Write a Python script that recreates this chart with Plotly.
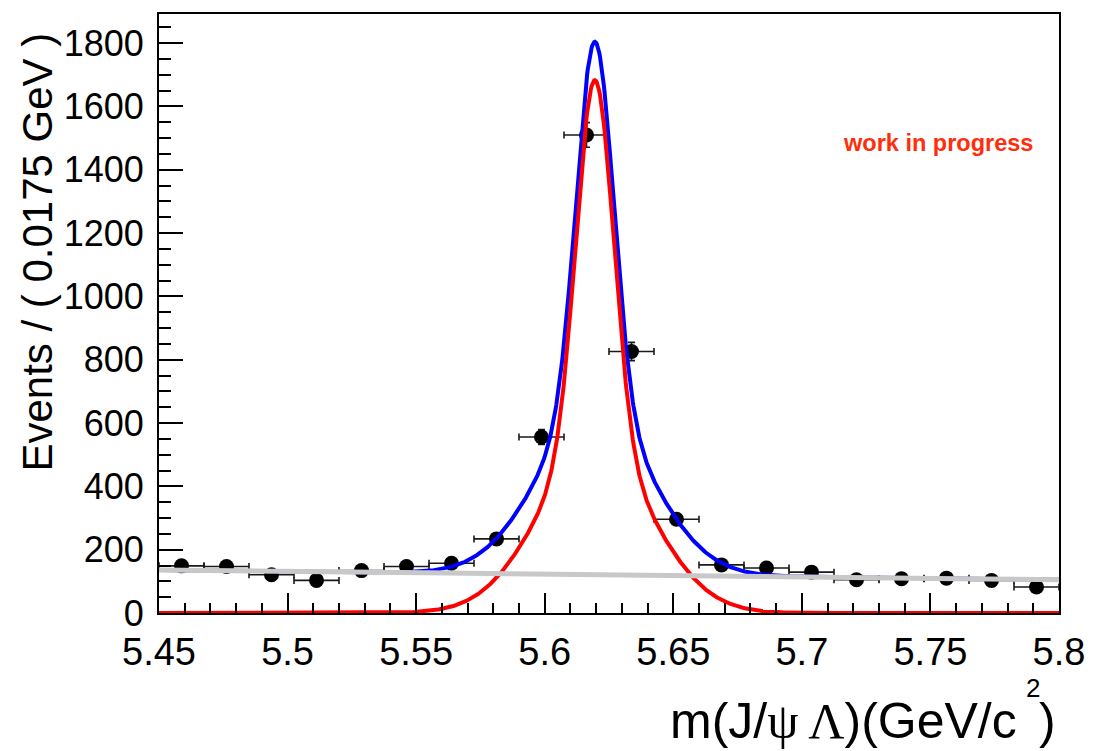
import numpy as np
import plotly.graph_objects as go

# ---- binned data: m(J/psi Lambda), 20 bins of 0.0175 GeV ----
bin_centers = [5.45875, 5.47625, 5.49375, 5.51125, 5.52875, 5.54625, 5.56375,
               5.58125, 5.59875, 5.61625, 5.63375, 5.65125, 5.66875, 5.68625,
               5.70375, 5.72125, 5.73875, 5.75625, 5.77375, 5.79125]
counts = [149, 147, 121, 103, 134, 147, 157, 234, 556, 1510,
          826, 296, 152, 142, 129, 105, 108, 110, 103, 82]
bin_half_width = 0.00875

# ---- fit result: double-Gaussian signal + linear background ----
sig_mean = 5.6195
sig_sigma_core = 0.0072
sig_sigma_wide = 0.022
sig_frac_wide = 0.30
sig_peak = 1683.0
bkg_at_lo = 136.0   # value at m = 5.45
bkg_at_hi = 105.0   # value at m = 5.80

x_lo, x_hi = 5.45, 5.80
y_hi = 1892

x_tick_vals = [5.45, 5.5, 5.55, 5.6, 5.65, 5.7, 5.75, 5.8]
x_tick_text = ["5.45", "5.5", "5.55", "5.6", "5.65", "5.7", "5.75", "5.8"]
y_tick_vals = [0, 200, 400, 600, 800, 1000, 1200, 1400, 1600, 1800]
y_tick_text = [str(v) for v in y_tick_vals]

# ---- evaluate the fitted model on a fine grid ----
m = np.linspace(x_lo, x_hi, 1401)
d = m - sig_mean
signal = sig_peak * ((1 - sig_frac_wide) * np.exp(-0.5 * (d / sig_sigma_core) ** 2)
                     + sig_frac_wide * np.exp(-0.5 * (d / sig_sigma_wide) ** 2))
background = bkg_at_lo + (bkg_at_hi - bkg_at_lo) * (m - x_lo) / (x_hi - x_lo)
total = signal + background

FONT = "Liberation Sans, Arial, Helvetica, sans-serif"

fig = go.Figure()

fig.add_trace(go.Scatter(
    x=bin_centers, y=counts, mode="markers",
    marker=dict(color="black", size=15),
    error_x=dict(type="constant", value=bin_half_width, color="#1a1a1a",
                 thickness=1.6, width=3.5),
    error_y=dict(type="data", array=list(np.sqrt(counts)), color="#1a1a1a",
                 thickness=1.6, width=3.5),
    showlegend=False,
))
fig.add_trace(go.Scatter(x=m, y=total, mode="lines",
                         line=dict(color="#0000ff", width=4), showlegend=False))
fig.add_trace(go.Scatter(x=m, y=signal, mode="lines",
                         line=dict(color="#ff0000", width=4), showlegend=False))
fig.add_trace(go.Scatter(x=m, y=background, mode="lines",
                         line=dict(color="#c8c8c8", width=5), showlegend=False))

fig.update_layout(
    width=1097, height=751,
    margin=dict(l=159, r=33, t=13, b=138),
    paper_bgcolor="white", plot_bgcolor="white",
    font=dict(family=FONT, color="black"),
    showlegend=False,
)

fig.update_xaxes(
    range=[x_lo, x_hi], showgrid=False, zeroline=False,
    showline=True, linecolor="black", linewidth=2, mirror=True,
    ticks="inside", ticklen=20, tickwidth=2, tickcolor="black",
    tickvals=x_tick_vals, ticktext=x_tick_text,
    tickfont=dict(size=38, family=FONT, color="black"),
    minor=dict(ticks="inside", dtick=0.01, ticklen=10, tickwidth=2,
               tickcolor="black", showgrid=False),
    ticklabelstandoff=4,
)
fig.update_yaxes(
    range=[0, y_hi], showgrid=False, zeroline=False,
    showline=True, linecolor="black", linewidth=2, mirror=True,
    ticks="inside", ticklen=24, tickwidth=2, tickcolor="black",
    tickvals=y_tick_vals, ticktext=y_tick_text,
    tickfont=dict(size=36, family=FONT, color="black"),
    minor=dict(ticks="inside", dtick=50, ticklen=12, tickwidth=2,
               tickcolor="black", showgrid=False),
    ticklabelstandoff=6,
)

# axis titles and label
fig.add_annotation(
    text="Events / ( 0.0175 GeV )", textangle=-90,
    xref="paper", yref="paper", x=0, y=(613 - 252) / 600,
    xanchor="center", yanchor="middle", xshift=38 - 159,
    showarrow=False, font=dict(size=42, family=FONT, color="black"),
)
fig.add_annotation(
    text="m(J/<span style=\"font-family:'Liberation Serif'\">ψ Λ</span>)(GeV/c",
    xref="paper", yref="paper", x=(1024 - 159) / 905, y=(613 - 721) / 600,
    xanchor="right", yanchor="middle",
    showarrow=False, font=dict(size=50, family=FONT, color="black"),
)
fig.add_annotation(
    text="2", xref="paper", yref="paper",
    x=(1038 - 159) / 905, y=(613 - 688) / 600,
    xanchor="center", yanchor="middle",
    showarrow=False, font=dict(size=26, family=FONT, color="black"),
)
fig.add_annotation(
    text=")", xref="paper", yref="paper",
    x=(1063 - 159) / 905, y=(613 - 721) / 600,
    xanchor="right", yanchor="middle",
    showarrow=False, font=dict(size=50, family=FONT, color="black"),
)
fig.add_annotation(
    text="<b>work in progress</b>", xref="paper", yref="paper",
    x=(942 - 159) / 905, y=(613 - 142) / 600,
    xanchor="center", yanchor="middle",
    showarrow=False, font=dict(size=23.5, family=FONT, color="#ff2d0a"),
)

fig.write_html("out.html")
